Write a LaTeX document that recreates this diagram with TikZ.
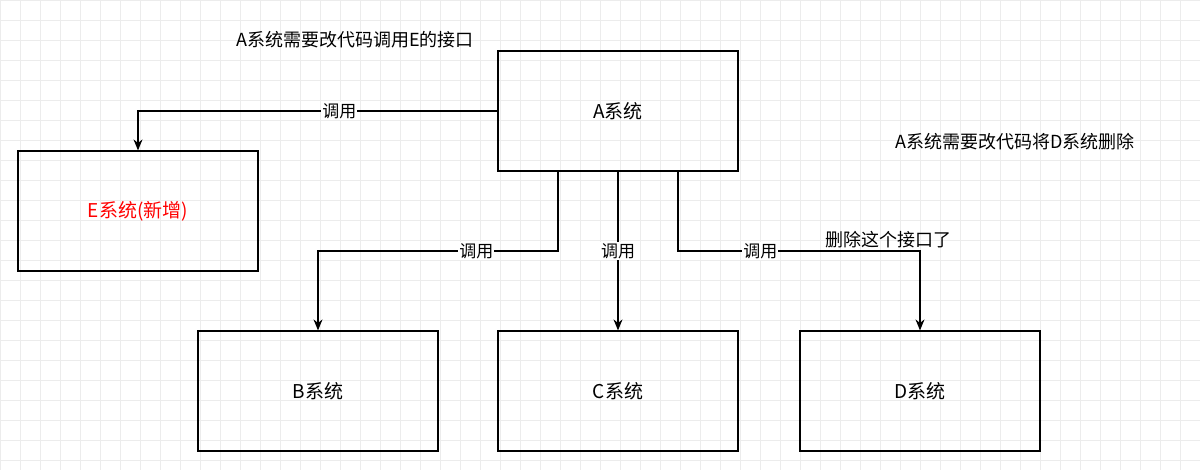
\documentclass[tikz,border=0pt]{standalone}
\usepackage{fontspec}
\setmainfont{Noto Sans CJK SC}
\usetikzlibrary{arrows.meta}
\begin{document}
\begin{tikzpicture}[x=1pt,y=-1pt,
  box/.style={draw,line width=1.2pt,minimum width=240pt,minimum height=120pt,font=\fontsize{19pt}{22pt}\selectfont},
  conn/.style={line width=1.2pt,-{Stealth[length=11pt,width=9pt]}},
  lbl/.style={fill=white,inner sep=1pt,font=\fontsize{17pt}{20pt}\selectfont},
  txt/.style={font=\fontsize{18pt}{21pt}\selectfont}]
\useasboundingbox (0,0) rectangle (1200,470);
\fill[white] (0,0) rectangle (1200,470);
\foreach \i in {0,20,...,1200} \draw[gray!15,line width=0.5pt] (\i,0) -- (\i,470);
\foreach \j in {0,20,...,460} \draw[gray!15,line width=0.5pt] (0,\j) -- (1200,\j);
\node[box] (A) at (618,111) {A系统};
\node[box,text=red] (E) at (138,211) {E系统(新增)};
\node[box] (B) at (318,391) {B系统};
\node[box] (C) at (618,391) {C系统};
\node[box] (D) at (920,391) {D系统};
\draw[conn] (A.west) -| (E.north) node[lbl,pos=0.22] {调用};
\coordinate (a1) at (558,171);
\coordinate (a3) at (678,171);
\draw[conn] (a1) |- (318,251) node[lbl,pos=0.67] {调用} -- (B.north);
\draw[conn] (A.south) -- (C.north) node[lbl,pos=0.5] {调用};
\draw[conn] (a3) |- (920,251) node[lbl,pos=0.67] {调用} -- (D.north);
\node[txt] (t1) at (355,40) {A系统需要改代码调用E的接口};
\node[txt] (t2) at (1015,142) {A系统需要改代码将D系统删除};
\node[txt] (t3) at (888,240) {删除这个接口了};
\end{tikzpicture}
\end{document}
